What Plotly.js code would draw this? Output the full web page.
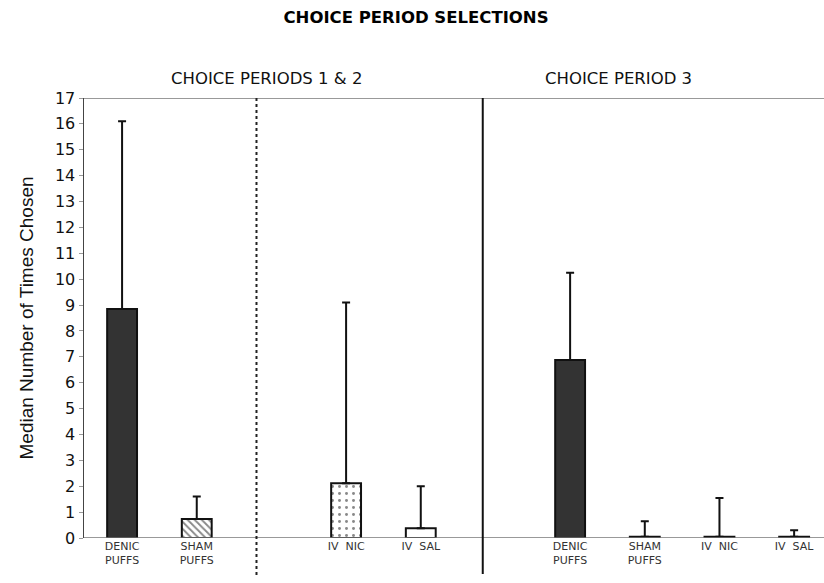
<!DOCTYPE html>
<html><head><meta charset="utf-8">
<script src="https://cdn.plot.ly/plotly-3.0.1.min.js"></script>
<style>body{margin:0;background:#fff}#c{width:824px;height:583px}</style>
</head><body><div id="c"></div>
<script>
const labels = ["DENIC<br>PUFFS","SHAM<br>PUFFS","IV  NIC","IV  SAL","DENIC<br>PUFFS","SHAM<br>PUFFS","IV  NIC","IV  SAL"];
const slots = [0,1,3,4,6,7,8,9];
const medians = [8.85,0.73,2.12,0.38,6.88,0.05,0.05,0.05];
const upper = [16.1,1.6,9.1,2.0,10.25,0.65,1.55,0.3];
const fills = ["#333333","#ffffff","#ffffff","#ffffff","#333333","#ffffff","#ffffff","#ffffff"];
const patterns = ["","\\",".","","","","",""];
const dividers = [1.8,4.83];

const traces = slots.map((s,i)=>{
  const m = {color:fills[i], line:{color:"#111",width:2}};
  if (patterns[i]) m.pattern = {shape:patterns[i], fgcolor:"#111", bgcolor:"#ffffff", size:patterns[i]==="."?7:5, solidity:patterns[i]==="."?0.14:0.38, fillmode:"overlay"};
  return {
    type:"bar", x:[s], y:[medians[i]], width:0.4, marker:m,
    error_y:{type:"data", symmetric:false, array:[upper[i]-medians[i]], arrayminus:[0], color:"#111", thickness:2, width:4},
    hoverinfo:"skip"
  };
});
const layout = {
  width:824, height:583,
  margin:{l:84,r:0,t:98,b:45},
  paper_bgcolor:"#fff", plot_bgcolor:"#fff",
  showlegend:false, barmode:"overlay",
  font:{family:"DejaVu Sans, Verdana, sans-serif", color:"#111"},
  title:{text:"<b>CHOICE PERIOD SELECTIONS</b>", x:416/824, xref:"container", xanchor:"center", y:1-17/583, yref:"container", yanchor:"middle", font:{size:16.5, family:"DejaVu Sans, Verdana, sans-serif", color:"#000"}},
  xaxis:{range:[-0.51,9.4], tickvals:slots, ticktext:labels, showgrid:false, zeroline:false, showline:false, ticks:"",
    tickfont:{size:11, color:"#333"}, fixedrange:true},
  yaxis:{range:[0,17], dtick:1, tick0:0, showgrid:false, zeroline:false, showline:true, linecolor:"#444", linewidth:1.5,
    ticks:"outside", ticklen:4, tickcolor:"#999", tickfont:{size:16, color:"#111"},
    title:{text:"Median Number of Times Chosen", font:{size:19, family:"Liberation Sans, Arial, sans-serif", color:"#111"}, standoff:16}},
  shapes:[
    {type:"line", xref:"paper", yref:"y", x0:0, x1:1, y0:17, y1:17, line:{color:"#999", width:2}},
    {type:"line", xref:"paper", yref:"y", x0:0, x1:1, y0:0, y1:0, line:{color:"#777", width:1.5}},
    {type:"line", xref:"x", yref:"paper", x0:dividers[0], x1:dividers[0], y0:-0.084, y1:1, line:{color:"#222", width:2, dash:"dot"}},
    {type:"line", xref:"x", yref:"paper", x0:dividers[1], x1:dividers[1], y0:-0.082, y1:1, line:{color:"#111", width:2}}
  ],
  annotations:[
    {text:"CHOICE PERIODS 1 & 2", xref:"paper", yref:"paper", x:(266-84)/740, xanchor:"center", y:(538-78)/440, yanchor:"middle", showarrow:false, font:{size:16.5, color:"#111"}},
    {text:"CHOICE PERIOD 3", xref:"paper", yref:"paper", x:(618-84)/740, xanchor:"center", y:(538-78)/440, yanchor:"middle", showarrow:false, font:{size:16.5, color:"#111"}}
  ]
};
Plotly.newPlot("c",traces,layout,{displayModeBar:false, staticPlot:true});
</script></body></html>
